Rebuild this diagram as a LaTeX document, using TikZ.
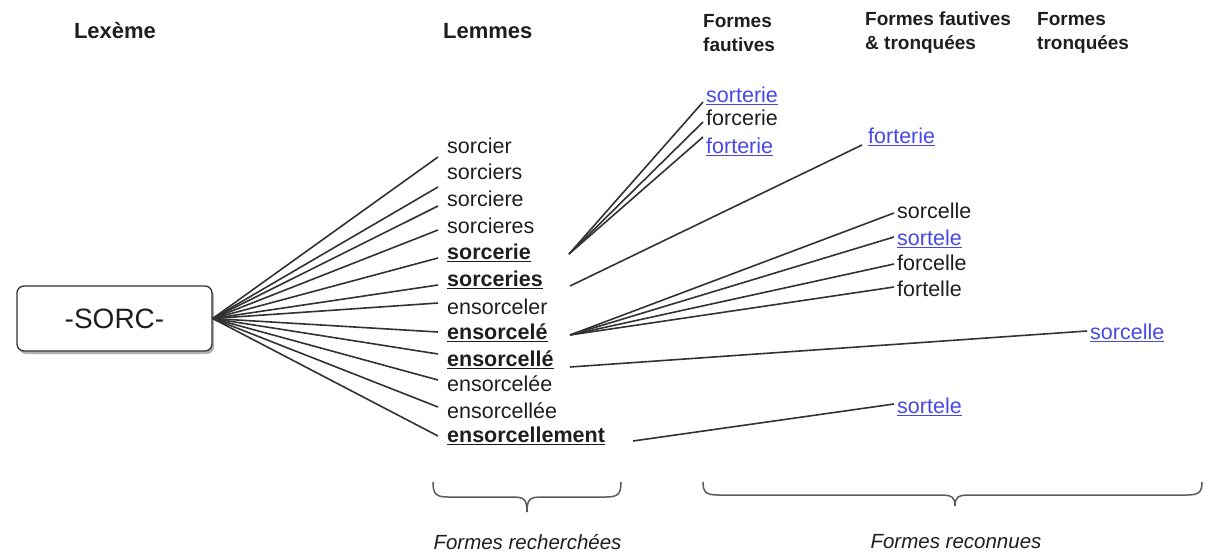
\documentclass[tikz,border=0pt]{standalone}
\usepackage{fontspec}
\setmainfont{Liberation Sans}
\usetikzlibrary{shadows}
\definecolor{linkblue}{RGB}{72,72,228}
\definecolor{txt}{RGB}{30,30,30}
\definecolor{edge}{RGB}{50,50,50}
\newcommand{\myul}[1]{\setbox0\hbox{#1}\rlap{\rule[-3pt]{\wd0}{1.4pt}}\box0}
\begin{document}
\begin{tikzpicture}[x=1pt,y=-1pt,
  lem/.style={anchor=west, inner xsep=9pt, inner ysep=0pt, text height=15pt, text depth=3pt, font=\fontsize{21.5}{26}\selectfont, text=txt},
  frm/.style={anchor=west, inner xsep=3pt, inner ysep=0pt, text height=15pt, text depth=3pt, font=\fontsize{21.5}{26}\selectfont, text=txt},
  lnk/.style={frm, text=linkblue},
  hd/.style={font=\fontsize{22}{24}\selectfont\bfseries, align=left, text=txt, inner sep=0pt},
  hds/.style={hd, anchor=west, font=\fontsize{19}{24}\selectfont\bfseries},
  conn/.style={draw=edge, line width=1.6pt},
  brc/.style={draw=edge!80, line width=1.5pt},
  note/.style={font=\fontsize{20.5}{24}\selectfont\itshape, text=txt, inner sep=0pt},
  lexbox/.style={draw=edge, line width=1.3pt, rounded corners=7pt, minimum width=195pt, minimum height=65pt, fill=white, text=txt, font=\fontsize{28}{30}\selectfont, drop shadow={shadow xshift=2pt, shadow yshift=-3pt, opacity=0.3, fill=black}}
]
\useasboundingbox (0,0) rectangle (1208,552);

% headings
\node[hd] (h1) at (115,31) {Lexème};
\node[hd, anchor=west] (h2) at (443,31) {Lemmes};
\node[hds] (h3) at (703,33) {Formes\\fautives};
\node[hds] (h4) at (865,33) {Formes fautives\\\& tronquées};
\node[hds] (h5) at (1037,33) {Formes\\tronquées};

% lexeme
\node[lexbox] (lex) at (114.5,318.5) {-SORC-};

% lemmas
\node[lem] (l1) at (438,147) {sorcier};
\node[lem] (l2) at (438,173) {sorciers};
\node[lem] (l3) at (438,200) {sorciere};
\node[lem] (l4) at (438,227) {sorcieres};
\node[lem] (l5) at (438,253) {\textbf{\myul{sorcerie}}};
\node[lem] (l6) at (438,280) {\textbf{\myul{sorceries}}};
\node[lem] (l7) at (438,308) {ensorceler};
\node[lem] (l8) at (438,333) {\textbf{\myul{ensorcelé}}};
\node[lem] (l9) at (438,360) {\textbf{\myul{ensorcellé}}};
\node[lem] (l10) at (438,385) {ensorcelée};
\node[lem] (l11) at (438,412) {ensorcellée};
\node[lem] (l12) at (438,436) {\textbf{\myul{ensorcellement}}};

% fan
\draw[conn] (lex.east) -- ([yshift=-10pt]l1.west);
\draw[conn] (lex.east) -- ([yshift=-14pt]l2.west);
\draw[conn] (lex.east) -- ([yshift=-6pt]l3.west);
\draw[conn] (lex.east) -- ([yshift=-3pt]l4.west);
\draw[conn] (lex.east) -- ([yshift=-5pt]l5.west);
\draw[conn] (lex.east) -- ([yshift=-5pt]l6.west);
\draw[conn] (lex.east) -- ([yshift=5pt]l7.west);
\draw[conn] (lex.east) -- ([yshift=1pt]l8.west);
\draw[conn] (lex.east) -- ([yshift=6pt]l9.west);
\draw[conn] (lex.east) -- ([yshift=5pt]l10.west);
\draw[conn] (lex.east) -- ([yshift=5pt]l11.west);
\draw[conn] (lex.east) -- (l12.west);

% recognised forms
\node[lnk] (f1) at (703,96) {\myul{sorterie}};
\node[frm] (f2) at (703,119) {forcerie};
\node[lnk] (f3) at (703,147) {\myul{forterie}};
\node[lnk] (ft1) at (865,137) {\myul{forterie}};
\node[frm] (ft2) at (894,212) {sorcelle};
\node[lnk] (ft3) at (894,239) {\myul{sortele}};
\node[frm] (ft4) at (894,264) {forcelle};
\node[frm] (ft5) at (894,290) {fortelle};
\node[lnk] (t1) at (1087,333) {\myul{sorcelle}};
\node[lnk] (ft6) at (894,407) {\myul{sortele}};

\coordinate (s5) at (569,254);
\coordinate (s6) at (570,286);
\coordinate (s8) at (570,335);
\coordinate (s9) at (570,367);
\coordinate (s12) at (633,441);

\draw[conn] (s5) -- ([yshift=-6pt]f1.west);
\draw[conn] (s5) -- ([yshift=-3pt]f2.west);
\draw[conn] (s5) -- ([yshift=10pt]f3.west);
\draw[conn] (s6) -- ([xshift=-3pt,yshift=-8pt]ft1.west);
\draw[conn] (s8) -- ([yshift=-1pt]ft2.west);
\draw[conn] (s8) -- ([yshift=2pt]ft3.west);
\draw[conn] (s8) -- (ft4.west);
\draw[conn] (s8) -- ([yshift=3pt]ft5.west);
\draw[conn] (s9) -- ([yshift=2pt]t1.west);
\draw[conn] (s12) -- ([yshift=3pt]ft6.west);

% braces
\draw[brc] (433,482) .. controls (433,494) and (436,497) .. (448,497) -- (512,497) .. controls (524,497) and (527,499) .. (527,512);
\draw[brc] (621,482) .. controls (621,494) and (618,497) .. (606,497) -- (542,497) .. controls (530,497) and (527,499) .. (527,512);
\draw[brc] (703,482) .. controls (703,492) and (706,495) .. (718,495) -- (940,495) .. controls (952,495) and (955,497) .. (955,506);
\draw[brc] (1202,482) .. controls (1202,492) and (1199,495) .. (1187,495) -- (970,495) .. controls (958,495) and (955,497) .. (955,506);

\node[note] (n1) at (527.5,542) {Formes recherchées};
\node[note] (n2) at (956,542) {Formes reconnues};
\end{tikzpicture}
\end{document}
